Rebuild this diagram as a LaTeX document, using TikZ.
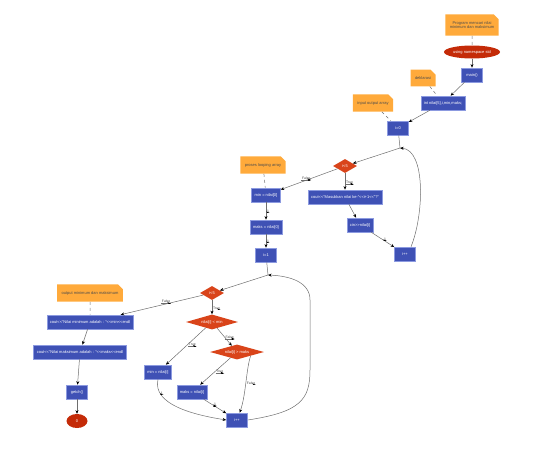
\documentclass[tikz,border=0pt]{standalone}
\usepackage{fontspec}
\setmainfont{Liberation Sans}
\usetikzlibrary{positioning, shapes.geometric, shapes.misc, arrows.meta}
\definecolor{procblue}{HTML}{3F51B5}
\definecolor{procline}{HTML}{8C9AE0}
\definecolor{noteorange}{HTML}{FFAA3B}
\definecolor{decred}{HTML}{D9441A}
\definecolor{termred}{HTML}{C42B08}
\definecolor{edgegray}{HTML}{6E6E6E}

\begin{document}
\begin{tikzpicture}[x=1pt, y=-1pt, >={Stealth[length=3.6pt, width=3pt, black]},
    font=\fontsize{4}{4.6}\selectfont,
    proc/.style={rectangle, draw=procline, line width=0.6pt, fill=procblue,
      text=white, minimum height=14pt, minimum width=21pt, inner xsep=3pt},
    dec/.style={diamond, fill=decred, text=white, aspect=3, inner sep=0pt},
    term/.style={ellipse, fill=termred, text=white, inner sep=0pt},
    note/.style={chamfered rectangle, chamfered rectangle corners=north east,
      chamfered rectangle xsep=1.5pt, fill=noteorange, text=black!70,
      minimum height=14pt, inner xsep=3pt, align=center},
    flow/.style={->, edgegray, line width=0.5pt},
    dline/.style={edgegray, dashed, line width=0.5pt},
    lab/.style={inner sep=0.8pt, text=black!75, font=\fontsize{3.4}{3.8}\selectfont,
      path picture={\draw[edgegray, line width=0.8pt]
        (path picture bounding box.south west) -- (path picture bounding box.south east);}}]

  \useasboundingbox (0,0) rectangle (535,455);

  % awal program
  \node[note, minimum height=18pt] (ntitle) at (472,25) {Program mencari nilai\\minimum dan maksimum};
  \node[term, minimum width=56pt, minimum height=13pt] (using) at (472,52) {using namespace std};
  \node[proc] (main) at (472,75) {main()};
  \node[note] (ndek) at (423,78) {deklarasi};
  \node[proc] (decl) at (443,103) {int nilai[5],i,min,maks;};
  \node[note] (nio) at (373,103) {input output array};
  \node[proc] (izero) at (398,128) {i=0};
  \coordinate (ja) at (400,148);

  % loop input
  \node[dec, minimum width=24pt, minimum height=14pt] (cka) at (345,166) {i<5};
  \node[note] (nlp) at (263,165) {proses looping array};
  \node[proc] (minz) at (266,195) {min = nilai[0]};
  \node[proc] (masuk) at (345,197) {cout<{}<"Masukkan nilai ke-"<{}<i+1<{}<"?"};
  \node[proc] (cin) at (360,225) {cin>{}>nilai[i]};
  \node[proc] (inca) at (405,254) {i++};
  \node[proc] (maksz) at (266,227) {maks = nilai[0]};
  \node[proc] (ione) at (266,255) {i=1};
  \coordinate (jb) at (268,275);

  % loop cari min dan maks
  \node[dec, minimum width=24pt, minimum height=14pt] (ckb) at (212,293) {i<5};
  \node[note] (nout) at (90,293) {output minimum dan maksimum};
  \node[proc] (outmin) at (90,322) {cout<{}<"Nilai minimum adalah : "<{}<min<{}<endl};
  \node[dec, minimum width=52pt, minimum height=15pt] (cmin) at (212,322) {nilai[i] < min};
  \node[dec, minimum width=54pt, minimum height=15pt] (cmaks) at (237,352) {nilai[i] > maks};
  \node[proc] (outmaks) at (80,352) {cout<{}<"Nilai maksimum adalah : "<{}<maks<{}<endl};
  \node[proc] (mini) at (158,372) {min = nilai[i]};
  \node[proc] (maksi) at (192,392) {maks = nilai[i]};
  \node[proc] (incb) at (237,420) {i++};
  \node[proc] (getch) at (77,392) {getch()};
  \node[term, minimum width=21pt, minimum height=14pt] (stop) at (77,421) {0};

  % catatan
  \draw[dline] (ntitle) -- (using);
  \draw[dline] (ndek) -- (decl);
  \draw[dline] (nio) -- (izero);
  \draw[dline] (nlp) -- (minz);
  \draw[dline] (nout) -- (outmin);

  % alur
  \draw[flow] (using) -- (main);
  \draw[flow] (main) -- (decl);
  \draw[flow] (decl) -- (izero);
  \draw[edgegray, line width=0.5pt] (izero) -- (ja);
  \draw[flow] (ja) -- (cka);
  \draw[flow] (cka) -- node[lab, pos=0.55, above] {False} (minz);
  \draw[flow] (cka) -- node[lab, pos=0.55, right] {True} (masuk);
  \draw[flow] (minz) -- node[lab, right] {1} (maksz);
  \draw[flow] (maksz) -- node[lab, right] {1} (ione);
  \draw[flow] (masuk) -- (cin);
  \draw[flow] (cin) -- node[lab, pos=0.6, above] {1} (inca);
  \draw[flow] ([xshift=6pt]inca.north) .. controls (424,215) and (426,150) .. (ja);
  \draw[edgegray, line width=0.5pt] (ione) -- (jb);
  \draw[flow] (jb) -- (ckb);
  \draw[flow] (ckb) -- node[lab, pos=0.45, above] {False} (outmin);
  \draw[flow] (ckb) -- node[lab, pos=0.55, right] {True} (cmin);
  \draw[flow] (outmin) -- (outmaks);
  \draw[flow] (outmaks) -- (getch);
  \draw[flow] (getch) -- (stop);
  \draw[flow] (cmin) -- node[lab, pos=0.45, right] {True} (mini);
  \draw[flow] (cmin) -- node[lab, pos=0.5, right] {False} (cmaks);
  \draw[flow] (cmaks) -- node[lab, pos=0.5, right] {True} (maksi);
  \draw[flow] (cmaks.south east) .. controls (246,370) and (246,395) .. node[lab, pos=0.5, right] {False} (incb);
  \draw[flow] (mini.south) .. controls (152,405) and (195,415) .. node[lab, pos=0.2, right] {1} (incb.west);
  \draw[flow] (maksi) -- node[lab, pos=0.5, above] {1} (incb);
  \draw[flow] (incb.east) .. controls (300,412) and (310,400) .. (310,370)
    -- (310,300) .. controls (310,282) and (290,276) .. (jb);
\end{tikzpicture}
\end{document}
